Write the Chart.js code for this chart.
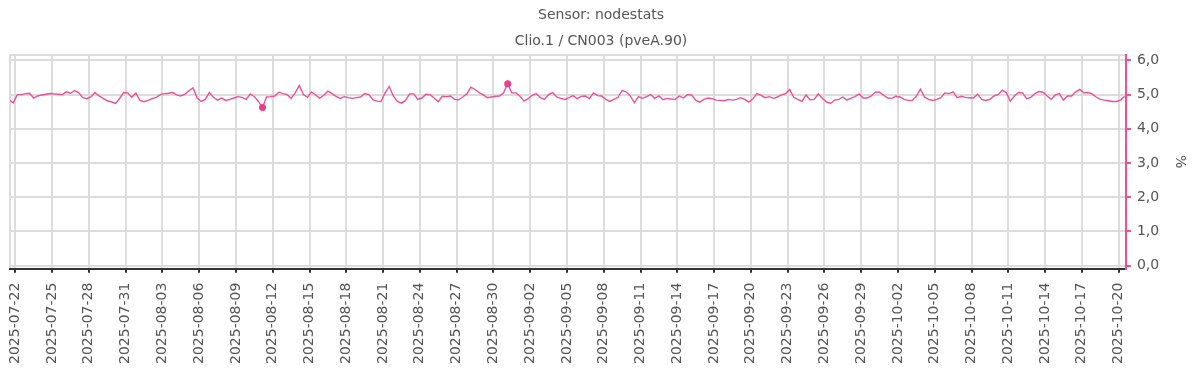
<!DOCTYPE html>
<html>
<head>
<meta charset="utf-8">
<title>Sensor: nodestats</title>
<script src="https://cdn.jsdelivr.net/npm/chart.js@4/dist/chart.umd.min.js"></script>
<style>
    body { margin: 0; background: #fff; }
</style>
</head>
<body>
<canvas id="sensor-chart" width="1200" height="374"></canvas>
<script>
// samples every 8 hours, starting 2025-07-21 12:00 UTC
const sampleStart = Date.UTC(2025, 6, 21, 12);
const sampleHours = 8;

// values (%)
const loadValues = [
    4.85, 4.76, 5.00, 5.00, 5.03, 5.04, 4.90, 4.96, 4.99, 5.01,
    5.03, 5.02, 5.01, 5.00, 5.08, 5.04, 5.12, 5.06, 4.91, 4.88,
    4.93, 5.06, 4.96, 4.89, 4.82, 4.79, 4.74, 4.88, 5.06, 5.05,
    4.92, 5.04, 4.83, 4.79, 4.83, 4.88, 4.92, 5.00, 5.03, 5.04,
    5.06, 4.99, 4.96, 5.01, 5.11, 5.20, 4.90, 4.80, 4.86, 5.06,
    4.92, 4.84, 4.90, 4.83, 4.86, 4.90, 4.94, 4.92, 4.86, 5.02,
    4.94, 4.80, 4.62, 4.93, 4.94, 4.96, 5.07, 5.03, 5.00, 4.89,
    5.05, 5.27, 5.00, 4.92, 5.08, 4.99, 4.89, 4.98, 5.10, 5.03,
    4.95, 4.89, 4.94, 4.91, 4.89, 4.91, 4.93, 5.03, 5.00, 4.85,
    4.81, 4.80, 5.05, 5.24, 4.96, 4.80, 4.75, 4.83, 5.02, 5.02,
    4.86, 4.90, 5.01, 5.00, 4.90, 4.79, 4.95, 4.94, 4.96, 4.86,
    4.85, 4.93, 5.02, 5.22, 5.15, 5.06, 4.99, 4.91, 4.93, 4.95,
    4.96, 5.05, 5.32, 5.05, 5.05, 4.95, 4.81, 4.88, 4.98, 5.03,
    4.91, 4.86, 5.00, 5.06, 4.93, 4.89, 4.86, 4.91, 4.97, 4.88,
    4.95, 4.96, 4.88, 5.05, 4.97, 4.96, 4.86, 4.80, 4.86, 4.92,
    5.12, 5.08, 4.96, 4.76, 4.94, 4.89, 4.94, 5.00, 4.89, 4.96,
    4.85, 4.89, 4.87, 4.86, 4.96, 4.90, 5.00, 4.99, 4.84, 4.78,
    4.86, 4.90, 4.88, 4.84, 4.83, 4.82, 4.86, 4.84, 4.86, 4.91,
    4.86, 4.78, 4.88, 5.03, 4.98, 4.91, 4.94, 4.89, 4.93, 4.99,
    5.03, 5.15, 4.92, 4.86, 4.80, 4.99, 4.85, 4.86, 5.02, 4.89,
    4.79, 4.74, 4.84, 4.86, 4.93, 4.84, 4.90, 4.94, 5.02, 4.90,
    4.90, 4.96, 5.08, 5.07, 4.98, 4.90, 4.89, 4.95, 4.93, 4.86,
    4.83, 4.83, 4.95, 5.16, 4.93, 4.86, 4.83, 4.86, 4.91, 5.05,
    5.03, 5.08, 4.91, 4.95, 4.92, 4.91, 4.90, 5.01, 4.86, 4.83,
    4.86, 4.96, 5.00, 5.13, 5.06, 4.81, 4.96, 5.06, 5.05, 4.88,
    4.92, 5.03, 5.09, 5.07, 4.96, 4.86, 4.99, 5.03, 4.84, 4.96,
    4.96, 5.08, 5.15, 5.05, 5.06, 5.02, 4.93, 4.86, 4.84, 4.82,
    4.80, 4.80, 4.84, 4.95
];

// x tick labels, one every 3 days
const dateTicks = [
    '2025-07-22', '2025-07-25', '2025-07-28', '2025-07-31', '2025-08-03',
    '2025-08-06', '2025-08-09', '2025-08-12', '2025-08-15', '2025-08-18',
    '2025-08-21', '2025-08-24', '2025-08-27', '2025-08-30', '2025-09-02',
    '2025-09-05', '2025-09-08', '2025-09-11', '2025-09-14', '2025-09-17',
    '2025-09-20', '2025-09-23', '2025-09-26', '2025-09-29', '2025-10-02',
    '2025-10-05', '2025-10-08', '2025-10-11', '2025-10-14', '2025-10-17',
    '2025-10-20'
];
const valueTicks = [0, 1, 2, 3, 4, 5, 6];

const HOUR = 3600 * 1000;
const points = loadValues.map((v, i) => ({ x: sampleStart + i * sampleHours * HOUR, y: v }));
const minValue = Math.min(...loadValues);
const maxValue = Math.max(...loadValues);
const dateTickValues = dateTicks.map(d => Date.parse(d + 'T00:00:00Z'));

// visible time range
const xMin = Date.UTC(2025, 6, 21, 13, 40);
const xMax = Date.UTC(2025, 9, 20, 14, 20);
const yMin = -0.09;
const yMax = 6.17;

const pink = '#ee4f97';
const gridGray = '#dcdcdc';
const textGray = '#555';

new Chart(document.querySelector('#sensor-chart').getContext('2d'), {
    type: 'line',
    data: {
        datasets: [{
            label: 'nodestats',
            data: points,
            borderColor: pink,
            backgroundColor: '#e8408a',
            borderWidth: 1.4,
            tension: 0,
            fill: false,
            // only mark the lowest and highest sample
            pointRadius: ctx => {
                const v = ctx.raw && ctx.raw.y;
                return (v === minValue || v === maxValue) ? 3.5 : 0;
            },
            pointBorderWidth: 0,
            pointHoverRadius: 0
        }]
    },
    options: {
        responsive: false,
        animation: false,
        layout: { padding: { left: 10, right: 8, top: 0, bottom: 0 } },
        plugins: {
            legend: { display: false },
            tooltip: { enabled: false },
            title: {
                display: true,
                text: 'Sensor: nodestats',
                color: textGray,
                font: { family: 'DejaVu Sans', size: 14, weight: 'normal' },
                padding: { top: 7, bottom: 9 }
            },
            subtitle: {
                display: true,
                text: 'Clio.1 / CN003 (pveA.90)',
                color: textGray,
                font: { family: 'DejaVu Sans', size: 14, weight: 'normal' },
                padding: { top: 0, bottom: 5 }
            }
        },
        scales: {
            x: {
                type: 'linear',
                min: xMin,
                max: xMax,
                afterBuildTicks: scale => {
                    scale.ticks = [xMin, ...dateTickValues].map(v => ({ value: v }));
                },
                ticks: {
                    autoSkip: false,
                    minRotation: 90,
                    maxRotation: 90,
                    padding: 10,
                    color: textGray,
                    font: { family: 'DejaVu Sans', size: 14 },
                    callback: value => {
                        const i = dateTickValues.indexOf(value);
                        return i >= 0 ? dateTicks[i] : '';
                    }
                },
                grid: {
                    color: gridGray,
                    lineWidth: 2,
                    tickColor: ctx => (ctx.index === 0 ? 'rgba(0,0,0,0)' : '#333'),
                    tickLength: 4
                },
                border: { color: '#333', width: 2 }
            },
            y: {
                position: 'right',
                min: yMin,
                max: yMax,
                afterBuildTicks: scale => {
                    scale.ticks = [yMin, ...valueTicks, yMax].map(v => ({ value: v }));
                },
                ticks: {
                    padding: 6,
                    color: textGray,
                    font: { family: 'DejaVu Sans', size: 14 },
                    callback: value => (valueTicks.includes(value) ? value.toFixed(1).replace('.', ',') : '')
                },
                grid: {
                    color: gridGray,
                    lineWidth: 2,
                    tickColor: ctx => (valueTicks.includes(ctx.tick && ctx.tick.value) ? pink : 'rgba(0,0,0,0)'),
                    tickLength: 5
                },
                border: { color: pink, width: 2 },
                title: {
                    display: true,
                    text: '%',
                    color: textGray,
                    font: { family: 'DejaVu Sans', size: 14 },
                    padding: { top: 4, bottom: 6 }
                }
            }
        }
    }
});
</script>
</body>
</html>
